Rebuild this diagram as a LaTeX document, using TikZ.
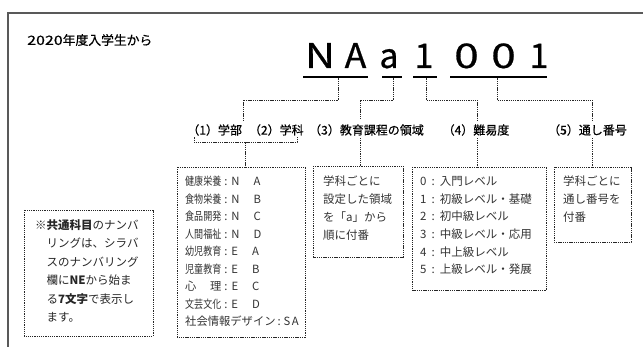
\documentclass[tikz,border=0pt]{standalone}
\usepackage{fontspec}
\setmainfont{Noto Sans CJK JP}
\newfontfamily\medfont{Noto Sans CJK JP}[FakeBold=0.6]
\usepackage{graphicx}
\begin{document}
\begin{tikzpicture}[x=1pt,y=-1pt,
  conn/.style={draw=black!85, line width=0.7pt, dash pattern=on 1.3pt off 0.9pt},
  dbox/.style={conn, fill=none},
  lbl/.style={inner sep=0pt, font=\medfont\fontsize{12}{14}\selectfont, text=black},
  btxt/.style={inner sep=0pt, anchor=north west, align=left, text=black!80,
               font=\fontsize{11.5}{17.7}\selectfont},
  code/.style={inner sep=0pt, anchor=base, font=\medfont\fontsize{34}{34}\selectfont},
  uline/.style={line width=2.6pt, black}]
\useasboundingbox (0,0) rectangle (643,347);
% frame
\draw[black!65, line width=1.3pt] (8,347) -- (8,13) -- (643,13);
% title
\node[inner sep=0pt, anchor=west, font=\medfont\fontsize{12.8}{15}\selectfont] (title) at (27,40) {\scalebox{1.25}[1]{2020}年度入学生から};
% code letters
\node[code] (cN) at (320,68) {\scalebox{1.22}[1]{N}};
\node[code] (cA) at (355.5,68) {\scalebox{1.05}[1]{A}};
\node[code] (ca) at (389,68) {a};
\node[code] (c1) at (424,68) {1};
\node[code] (c2) at (466.5,68) {\scalebox{1.3}[1]{0}};
\node[code] (c3) at (503.5,68) {\scalebox{1.3}[1]{0}};
\node[code] (c4) at (539,68) {1};
% underlines
\coordinate (uNAl) at (303,77); \coordinate (uNAr) at (368,77);
\coordinate (ual) at (382,77);  \coordinate (uar) at (402,77);
\coordinate (u1l) at (413,77);  \coordinate (u1r) at (437,77);
\coordinate (u2l) at (450,77);  \coordinate (u2r) at (547,77);
\draw[uline] (uNAl) -- (uNAr);
\draw[uline] (ual) -- (uar);
\draw[uline] (u1l) -- (u1r);
\draw[uline] (u2l) -- (u2r);
\coordinate (uNA) at (338,78.5);
\coordinate (ua) at (393,78.5);
\coordinate (u1) at (426,78.5);
\coordinate (u2) at (497,78.5);
% labels
\node[lbl] (L12) at (245.5,130) {（1）学部\hspace{7pt}（2）学科};
\node[lbl] (L3) at (366.5,130) {（3）教育課程の領域};
\node[lbl] (L4) at (476,130) {（4）難易度};
\node[lbl] (L5) at (587.5,130) {（5）通し番号};
% connectors from code to labels
\draw[conn] (uNA) -- (338,100) -- (243,100) -- (243,120);
\draw[conn] (ua) -- (393,100) -- (360,100) -- (360,120);
\draw[conn] (u1) -- (426,100) -- (477,100) -- (477,120);
\draw[conn] (u2) -- (497,100) -- (592,100) -- (592,120);
% bracket under (1)(2)
\coordinate (brl) at (194,137.5);
\coordinate (brr) at (297,137.5);
\draw[conn] (brl) -- (194,142.5) -- (297,142.5) -- (brr);
% boxes
\draw[dbox] (177,167) rectangle (305,337);
\coordinate (B12t) at (245,167);
\draw[dbox] (313,166) rectangle (403,257);
\coordinate (B3t) at (360,166);
\draw[dbox] (412,167) rectangle (546,290);
\coordinate (B4t) at (477,167);
\draw[dbox] (554,167) rectangle (631,242);
\coordinate (B5t) at (592,167);
\draw[dbox] (24,210) rectangle (153,336);
% connectors from labels to boxes
\draw[conn] (245,142.5) -- (B12t);
\draw[conn] (360,138) -- (B3t);
\draw[conn] (477,138) -- (B4t);
\draw[conn] (592,138) -- (B5t);
% box texts
\newcommand\sqz[1]{\scalebox{0.8}[1]{#1}}
\newcommand\cl{\hspace{3pt}:\hspace{4pt}}
\newcommand\dcl{\hspace{5pt}:\hspace{5pt}}
\newcommand\lsp{\hspace{14pt}}
\node[btxt, font=\fontsize{11.3}{17.5}\selectfont] (T12) at (185,176) {%
\sqz{健康栄養}\cl N\lsp A\\
\sqz{食物栄養}\cl N\lsp B\\
\sqz{食品開発}\cl N\lsp C\\
\sqz{人間福祉}\cl N\lsp D\\
\sqz{幼児教育}\cl E\lsp A\\
\sqz{児童教育}\cl E\lsp B\\
\makebox[36.2pt][s]{心\hfill 理}\cl E\lsp C\\
\sqz{文芸文化}\cl E\lsp D\\
社会情報デザイン\hspace{2pt}:\hspace{3pt}S\hspace{1.5pt}A};
\node[btxt] (T3) at (323,176) {学科ごとに\\設定した領域\\を「a」から\\順に付番};
\node[btxt] (T4) at (420,176) {%
0\dcl 入門レベル\\
1\dcl 初級レベル・基礎\\
2\dcl 初中級レベル\\
3\dcl 中級レベル・応用\\
4\dcl 中上級レベル\\
5\dcl 上級レベル・発展};
\node[btxt] (T5) at (563,176) {学科ごとに\\通し番号を\\付番};
\node[btxt, text=black!85, font=\fontsize{11.5}{18.5}\selectfont] (TN) at (35,219) {%
※\textbf{共通科目}のナンバ\\
\hspace{11.5pt}リングは、シラバ\\
\hspace{11.5pt}スのナンバリング\\
\hspace{11.5pt}欄に\textbf{NE}から始ま\\
\hspace{11.5pt}る\textbf{7文字}で表示し\\
\hspace{11.5pt}ます。};
\end{tikzpicture}
\end{document}
